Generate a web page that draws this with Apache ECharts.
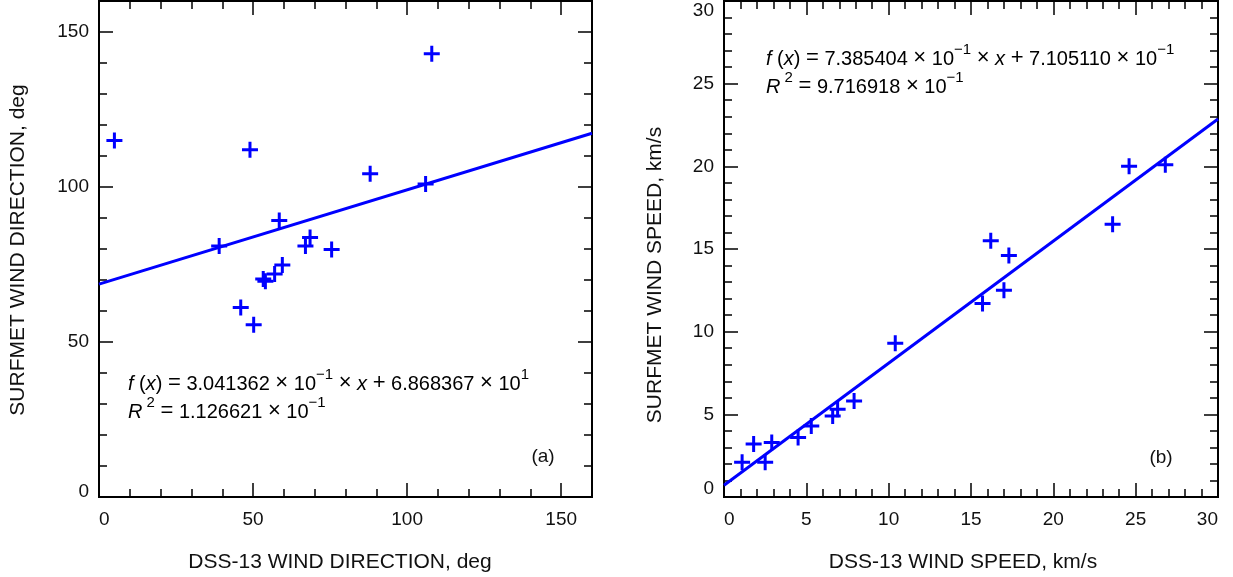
<!DOCTYPE html>
<html>
<head>
<meta charset="utf-8">
<script src="https://cdn.jsdelivr.net/npm/echarts@6/dist/echarts.min.js"></script>
<style>
html,body{margin:0;padding:0;background:#fff;}
#chart{width:1233px;height:577px;}
</style>
</head>
<body>
<div id="chart"></div>
<script>
// ---- data ----
const dirX = [5, 49, 108, 88, 106, 58.5, 39, 67, 68.5, 75.5, 59.5, 57, 53.3, 54, 46, 50.2];
const dirY = [115, 112, 143, 104.3, 101, 89.2, 81, 81, 83.7, 79.8, 74.8, 71.9, 70.3, 69.6, 61.1, 55.6];
const spdX = [24.6, 26.8, 23.6, 16.2, 17.3, 17.0, 15.7, 10.4, 7.9, 6.9, 6.6, 5.3, 4.5, 2.9, 1.8, 1.1, 2.5];
const spdY = [20.0, 20.1, 16.5, 15.5, 14.6, 12.5, 11.7, 9.3, 5.8, 5.3, 4.9, 4.3, 3.6, 3.3, 3.2, 2.1, 2.1];
const dirFit = [0.3041362, 68.68367];   // slope, intercept
const spdFit = [0.7385404, 0.7105110];
const dirFitText = ['3.041362', '\u22121', '6.868367', '1'];
const spdFitText = ['7.385404', '\u22121', '7.105110', '\u22121'];
const dirR2 = ['1.126621', '\u22121'];
const spdR2 = ['9.716918', '\u22121'];
const dirRange = [0, 160], dirMajor = 50, dirMinor = 10;
const spdRange = [0, 30], spdMajor = 5, spdMinor = 1;
const titles = {
  ax: 'DSS-13 WIND DIRECTION, deg', ay: 'SURFMET WIND DIRECTION, deg',
  bx: 'DSS-13 WIND SPEED, km/s', by: 'SURFMET WIND SPEED, km/s'
};
const panelTags = ['(a)', '(b)'];

const FONT = '"Liberation Sans", Arial, Helvetica, sans-serif';
const BLUE = '#0000ff';
const PLUS = 'path://M6.5,0H9.5V16H6.5Z M0,6.5H16V9.5H0Z';

function axis(dim, grid, pos, range, interval, len, label, extra) {
  const a = {
    type: 'value', gridIndex: grid, position: pos,
    min: range[0], max: range[1], interval: interval,
    axisLine: {show: true, onZero: false, lineStyle: {color: '#000', width: 2}},
    axisTick: {show: true, inside: true, length: len, lineStyle: {color: '#000', width: 1.5}},
    splitLine: {show: false},
    axisLabel: {show: label, color: '#111', fontFamily: FONT, fontSize: 19, margin: dim === 'x' ? 13 : 10, showMaxLabel: true}
  };
  if (extra) Object.assign(a.axisLabel, extra);
  return a;
}
function lowLabel(pad) {
  return {
    formatter: v => v === 0 ? '{lo|0}' : String(v),
    rich: {lo: {fontFamily: FONT, fontSize: 19, color: '#111', padding: [0, 0, pad, 0]}}
  };
}

const xAxes = [], yAxes = [];
[[dirRange, dirMajor, dirMinor, {showMaxLabel: false}, 10], [spdRange, spdMajor, spdMinor, {verticalAlignMaxLabel: 'top'}, 16]].forEach((g, gi) => {
  const [r, M, m, ex, pad] = g;
  xAxes.push(axis('x', gi, 'bottom', r, M, 14, true, Object.assign({alignMinLabel: 'left', alignMaxLabel: 'right'}, gi === 0 ? {showMaxLabel: false} : {})));
  xAxes.push(axis('x', gi, 'bottom', r, m, 8, false));
  xAxes.push(axis('x', gi, 'top', r, M, 14, false));
  xAxes.push(axis('x', gi, 'top', r, m, 8, false));
  yAxes.push(axis('y', gi, 'left', r, M, 14, true, Object.assign(lowLabel(pad), ex)));
  yAxes.push(axis('y', gi, 'left', r, m, 8, false));
  yAxes.push(axis('y', gi, 'right', r, M, 14, false));
  yAxes.push(axis('y', gi, 'right', r, m, 8, false));
});

function pts(xs, ys) { return xs.map((x, i) => [x, ys[i]]); }
function fitLine(f, r) { return [[r[0], f[0] * r[0] + f[1]], [r[1], f[0] * r[1] + f[1]]]; }

const rich = {
  n: {fontFamily: FONT, fontSize: 20, lineHeight: 24, color: '#000', verticalAlign: 'bottom'},
  op: {fontFamily: FONT, fontSize: 22, lineHeight: 24, color: '#000', verticalAlign: 'bottom'},
  it: {fontFamily: FONT, fontSize: 20, lineHeight: 24, color: '#000', fontStyle: 'italic', verticalAlign: 'bottom'},
  sup: {fontFamily: FONT, fontSize: 15, lineHeight: 14, color: '#000', verticalAlign: 'bottom', padding: [0, 0, 12, 0]}
};
function line1(t) {
  return '{it|f}{n| (}{it|x}{n|) }{op|=}{n| ' + t[0] + ' }{op|\u00d7}{n| 10}{sup|' + t[1] + '}{n| }{op|\u00d7}{n| }{it|x}{n| }{op|+}{n| ' + t[2] + ' }{op|\u00d7}{n| 10}{sup|' + t[3] + '}';
}
function line2(t) {
  return '{it|R}{sup| 2}{n| }{op|=}{n| ' + t[0] + ' }{op|\u00d7}{n| 10}{sup|' + t[1] + '}';
}
function txt(x, y, text) {
  return {type: 'text', x: x, y: y, silent: true,
    style: {text: text, rich: rich, fill: '#000', font: '20px ' + FONT, verticalAlign: 'middle', align: 'left'}};
}
function plain(x, y, text, size, rot) {
  return {type: 'text', x: x, y: y, rotation: rot || 0, silent: true,
    style: {text: text, fill: '#111', fontFamily: FONT, fontSize: size, align: 'center', verticalAlign: 'middle'}};
}

const chart = echarts.init(document.getElementById('chart'), null, {renderer: 'canvas'});
chart.setOption({
  animation: false,
  backgroundColor: '#fff',
  grid: [
    {left: 99, top: 1, width: 493, height: 496},
    {left: 724, top: 1, width: 494, height: 496}
  ],
  xAxis: xAxes,
  yAxis: yAxes,
  series: [
    {type: 'line', xAxisIndex: 0, yAxisIndex: 0, data: fitLine(dirFit, dirRange), showSymbol: false,
     lineStyle: {color: BLUE, width: 3}, z: 3},
    {type: 'scatter', xAxisIndex: 0, yAxisIndex: 0, data: pts(dirX, dirY), symbol: PLUS, symbolSize: 16,
     itemStyle: {color: BLUE, opacity: 1}, z: 4},
    {type: 'line', xAxisIndex: 4, yAxisIndex: 4, data: fitLine(spdFit, spdRange), showSymbol: false,
     lineStyle: {color: BLUE, width: 3}, z: 3},
    {type: 'scatter', xAxisIndex: 4, yAxisIndex: 4, data: pts(spdX, spdY), symbol: PLUS, symbolSize: 16,
     itemStyle: {color: BLUE, opacity: 1}, z: 4}
  ],
  graphic: [
    txt(128, 382, line1(dirFitText)),
    txt(128, 410, line2(dirR2)),
    txt(766, 57, line1(spdFitText)),
    txt(766, 85, line2(spdR2)),
    plain(543, 457, panelTags[0], 19),
    plain(1161, 458, panelTags[1], 19),
    plain(340, 562, titles.ax, 21),
    plain(963, 562, titles.bx, 21),
    plain(18, 250, titles.ay, 21, Math.PI / 2),
    plain(655, 275, titles.by, 21, Math.PI / 2)
  ]
});
</script>
</body>
</html>
